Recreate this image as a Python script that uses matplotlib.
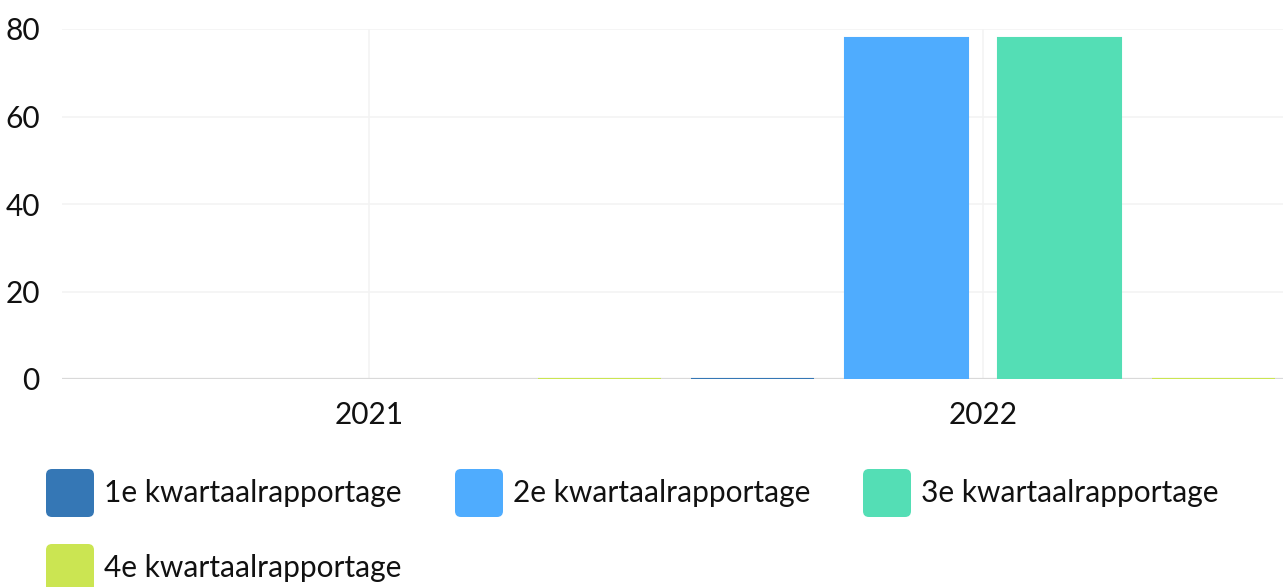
import matplotlib.pyplot as plt
import numpy as np
from matplotlib.patches import FancyBboxPatch

plt.rcParams['font.family'] = ['Lato', 'DejaVu Sans']

years = ['2021', '2022']
series = ['1e kwartaalrapportage', '2e kwartaalrapportage',
          '3e kwartaalrapportage', '4e kwartaalrapportage']
q1 = [np.nan, 0]
q2 = [np.nan, 78]
q3 = [np.nan, 78]
q4 = [0, 0]
values = [q1, q2, q3, q4]
colors = ['#3577b5', '#4facfe', '#54deb5', '#cbe552']

W, H = 1283, 587
fig = plt.figure(figsize=(W / 100, H / 100), dpi=100)
# plot area in pixels: left 62, right ~1290, top 29, bottom 379
ax = fig.add_axes([62 / W, (H - 379) / H, 1228 / W, 350 / H])

x = np.arange(len(years))
width = 0.2
offsets = [-0.375, -0.125, 0.125, 0.375]
for vals, off, c in zip(values, offsets, colors):
    vals = np.array(vals, dtype=float)
    ax.bar(x + off, vals, width, color=c, edgecolor=c, linewidth=1.5, zorder=3)

ax.set_xlim(-0.5, 1.5)
ax.set_ylim(0, 80)
ax.set_yticks([0, 20, 40, 60, 80])
ax.set_xticks(x)
ax.set_xticklabels(years)
ax.tick_params(axis='both', length=0, labelsize=21.5, colors='#111111')
ax.tick_params(axis='y', pad=16)
ax.tick_params(axis='x', pad=16)
ax.grid(True, color='#f3f3f3', linewidth=1.2, zorder=0)
for s in ax.spines.values():
    s.set_visible(False)
ax.axhline(0, color='#d9d9d9', linewidth=1.6, zorder=2)

# legend drawn in pixel space
lax = fig.add_axes([0, 0, 1, 1])
lax.set_xlim(0, W)
lax.set_ylim(H, 0)
lax.axis('off')
lax.patch.set_alpha(0)
legend_pos = [(46, 493), (455, 493), (863, 493), (46, 568)]
for name, c, (lx, ly) in zip(series, colors, legend_pos):
    lax.add_patch(FancyBboxPatch((lx + 5, ly - 19), 38, 38,
                                 boxstyle='round,pad=5,rounding_size=6',
                                 facecolor=c, edgecolor='none'))
    lax.text(lx + 58, ly, name, fontsize=21.5, va='center', ha='left', color='#111111')

fig.savefig('out.png', dpi=100)
